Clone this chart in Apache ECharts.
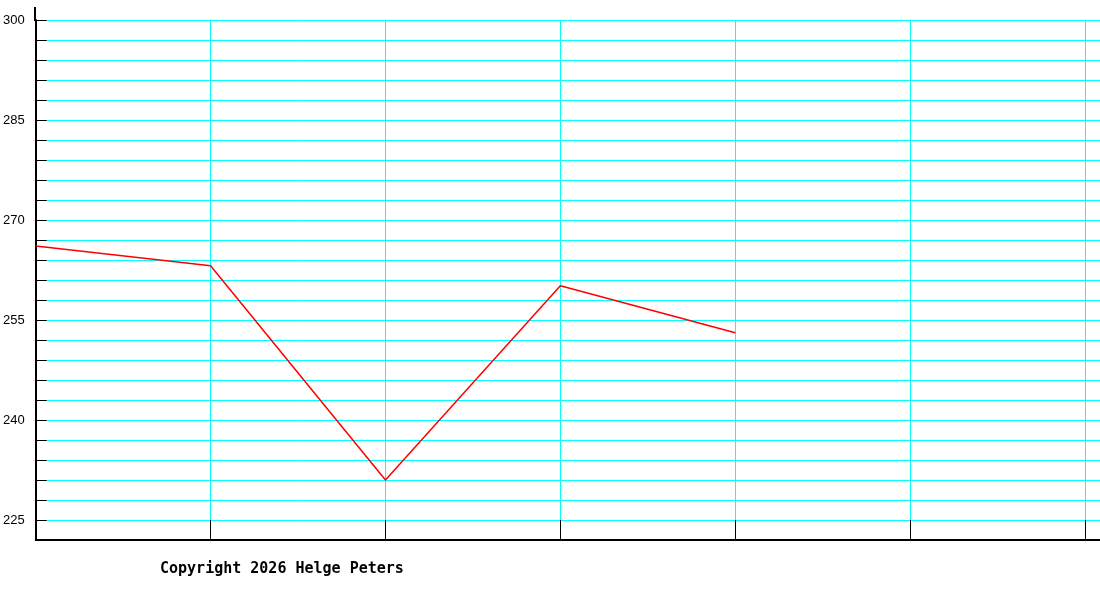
<!DOCTYPE html>
<html>
<head>
<meta charset="utf-8">
<script src="https://cdn.jsdelivr.net/npm/echarts@6/dist/echarts.min.js"></script>
<style>
  html, body { margin: 0; padding: 0; background: #fff; }
  #chart { width: 1100px; height: 600px; }
</style>
</head>
<body>
<div id="chart"></div>
<script>
// data
const positions = [0, 1, 2, 3, 4];
const values = [266.1, 263.15, 231.0, 260.15, 253.1];
const yLabelValues = [225, 240, 255, 270, 285, 300];

document.addEventListener('DOMContentLoaded', () => {
    const chart = echarts.init(document.getElementById('chart'));

    chart.setOption({
        animation: false,
        backgroundColor: '#ffffff',
        title: {
            text: 'Copyright 2026 Helge Peters',
            left: 160,
            top: 562,
            padding: 0,
            textStyle: { fontFamily: 'DejaVu Sans Mono', fontWeight: 'bold', fontSize: 15, color: '#000' }
        },
        grid: { left: 35, right: 0, top: 20, bottom: 60, containLabel: false },
        xAxis: {
            type: 'value',
            min: 0,
            max: 1065 / 175,
            interval: 1,
            axisLine: { show: true, onZero: false, lineStyle: { color: '#000', width: 2 } },
            axisTick: { show: true, inside: true, length: 20, lineStyle: { color: '#000', width: 1 } },
            axisLabel: { show: false },
            splitLine: { show: true, lineStyle: { color: '#00ffff', width: 1 } }
        },
        yAxis: {
            type: 'value',
            min: 222,
            max: 300,
            interval: 3,
            axisLine: { show: true, onZero: false, lineStyle: { color: '#000', width: 2 } },
            axisTick: { show: true, inside: true, length: 11, lineStyle: { color: '#000', width: 1 } },
            axisLabel: {
                margin: 11,
                color: '#000',
                fontFamily: 'Liberation Sans',
                fontSize: 13,
                formatter: v => yLabelValues.includes(v) ? String(v) : ''
            },
            splitLine: { show: true, lineStyle: { color: '#00ffff', width: 1 } }
        },
        // short piece of the y axis above the top gridline
        graphic: [{
            type: 'line',
            shape: { x1: 35, y1: 7, x2: 35, y2: 21 },
            style: { stroke: '#000', lineWidth: 2 }
        }],
        series: [{
            type: 'line',
            data: positions.map((p, i) => [p, values[i]]),
            showSymbol: false,
            lineStyle: { color: '#ff0000', width: 1.5 },
            z: 5
        }]
    });
});
</script>
</body>
</html>
